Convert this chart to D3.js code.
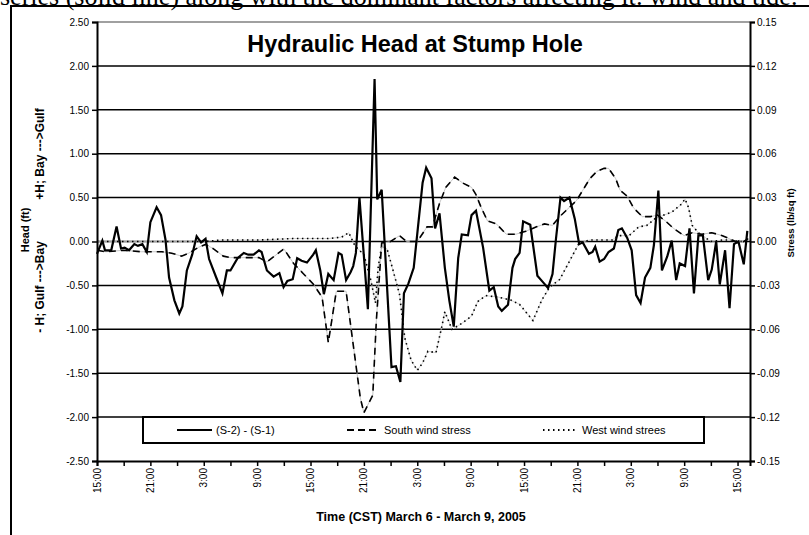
<!DOCTYPE html>
<html>
<head>
<meta charset="utf-8">
<script src="https://cdn.jsdelivr.net/npm/d3@7"></script>
<style>
  body { margin: 0; background: #fff; }
  svg { display: block; font-family: "Liberation Sans", Arial, sans-serif; }
</style>
</head>
<body>
<div id="chart"></div>
<script>
// hours after 15:00 March 6, head difference (ft)
var headHours = [0,0.6,0.9,1.6,2.2,2.7,3.1,3.6,4.2,4.6,5.1,5.6,6.0,6.7,7.2,7.7,8.1,8.7,9.25,9.6,10.1,10.7,11.2,11.7,12.2,12.6,13.4,14.1,14.6,15.0,15.8,16.5,17.0,17.6,18.2,18.5,18.9,19.1,19.85,20.5,20.97,21.4,22.0,22.5,23.0,23.6,24.3,24.6,25.1,25.5,26.0,26.6,27.15,27.5,28.0,28.5,28.8,29.1,29.5,30.45,31.2,31.5,32.0,33.1,33.6,34.1,34.5,35.0,35.6,36.6,37.0,37.6,38.0,38.5,39.1,39.6,40.1,40.6,41.0,41.7,42.1,42.6,43.4,44.1,44.6,45.1,45.5,46.2,46.7,47.0,47.5,47.9,48.7,49.5,50.1,50.7,51.2,51.6,52.1,52.5,53.1,53.7,54.2,54.6,55.3,55.7,56.0,56.5,57.0,57.5,58.1,58.6,59.0,59.6,60.1,60.6,61.1,61.6,62.2,62.6,63.1,63.5,64.1,64.6,65.1,65.5,66.1,66.6,67.1,67.6,68.1,68.7,69.1,69.6,70.0,70.6,71.1,71.6,72.1,72.7,73.1];
var headValues = [-0.14,0.01,-0.10,-0.10,0.17,-0.08,-0.07,-0.10,-0.03,-0.05,-0.03,-0.12,0.22,0.39,0.30,0.02,-0.41,-0.67,-0.82,-0.74,-0.33,-0.15,0.06,-0.01,0.03,-0.20,-0.41,-0.59,-0.33,-0.33,-0.19,-0.13,-0.15,-0.15,-0.10,-0.12,-0.26,-0.33,-0.40,-0.36,-0.52,-0.45,-0.43,-0.19,-0.22,-0.24,-0.15,-0.10,-0.33,-0.60,-0.37,-0.44,-0.13,-0.15,-0.44,-0.35,-0.28,-0.13,0.50,-0.77,1.85,0.48,0.59,-1.43,-1.42,-1.60,-0.59,-0.48,-0.30,0.67,0.84,0.72,0.15,0.32,-0.30,-0.67,-0.97,-0.19,0.08,0.07,0.30,0.35,-0.07,-0.56,-0.52,-0.74,-0.79,-0.72,-0.30,-0.20,-0.13,0.23,0.19,-0.39,-0.46,-0.53,-0.37,0.04,0.50,0.46,0.50,0.26,-0.03,-0.01,-0.14,-0.12,-0.06,-0.23,-0.20,-0.12,-0.08,0.13,0.15,0.04,-0.10,-0.61,-0.70,-0.41,-0.30,-0.04,0.58,-0.33,-0.17,0.01,-0.44,-0.25,-0.28,0.15,-0.59,0.07,0.07,-0.44,-0.32,0.00,-0.49,-0.10,-0.76,-0.03,0.00,-0.26,0.12];

// south wind stress (lb/sq ft)
var southHours = [0,1,3,5,7.3,8.4,9.5,10.3,11.4,12.2,13.1,14.2,15,18.2,19.1,21,22.1,23.2,24.3,25.3,26.0,26.9,28.0,29.6,30.0,31.0,31.4,32.0,33.0,34.0,34.8,36.0,37.1,37.7,38.5,39.2,40.2,41.1,42.1,42.6,43.2,43.9,44.9,46.0,47.1,48.2,49.4,50.3,51.2,52.0,52.7,53.9,54.6,55.4,56.2,57.0,57.5,58.3,58.8,59.6,60.3,61.3,62.2,63.0,63.9,64.8,66.0,66.9,68.0,69.1,70.3,71.4,72.1,72.7,73.2];
var southStress = [-0.006,-0.007,-0.006,-0.007,-0.007,-0.008,-0.010,-0.008,-0.004,-0.002,-0.005,-0.010,-0.011,-0.011,-0.014,-0.005,-0.015,-0.022,-0.029,-0.038,-0.069,-0.034,-0.034,-0.107,-0.117,-0.105,-0.054,-0.001,0.000,0.004,0.000,0.000,0.010,0.010,0.026,0.037,0.044,0.040,0.037,0.032,0.023,0.014,0.012,0.005,0.005,0.007,0.010,0.012,0.011,0.017,0.021,0.028,0.035,0.043,0.048,0.050,0.050,0.043,0.035,0.031,0.023,0.017,0.017,0.018,0.014,0.009,0.004,0.006,0.005,0.006,0.004,0.001,-0.001,0.000,0.002];

// west wind stress (lb/sq ft)
var westHours = [0,6,12,14,18,22,26,27.5,28.3,29.0,30.0,30.8,31.3,31.6,32.0,32.6,33.2,34.0,34.6,35.3,36.0,36.6,37.2,38.1,38.8,39.1,39.9,41.0,42.1,42.8,43.7,45.1,46.5,47.5,49.0,50.0,50.9,52.0,52.8,53.5,54.2,55.4,57.9,58.6,59.8,60.9,61.8,62.8,64.6,65.6,66.1,66.5,66.9,67.6,69.0,70.3,71.4,72.1,72.9];
var westStress = [0.000,0.000,0.000,0.001,0.001,0.002,0.002,0.003,0.006,-0.003,-0.009,-0.027,-0.042,-0.018,-0.003,-0.005,-0.018,-0.036,-0.066,-0.081,-0.088,-0.083,-0.075,-0.076,-0.057,-0.048,-0.060,-0.056,-0.051,-0.041,-0.037,-0.038,-0.040,-0.043,-0.054,-0.040,-0.031,-0.026,-0.017,-0.009,-0.001,0.001,0.001,0.004,0.004,0.010,0.011,0.016,0.020,0.025,0.029,0.023,0.011,0.006,0.000,0.001,0.001,0.000,0.000];

var timeTicks = [0,6,12,18,24,30,36,42,48,54,60,66,72];
var timeLabels = ["15:00","21:00","3:00","9:00","15:00","21:00","3:00","9:00","15:00","21:00","3:00","9:00","15:00"];
var minorTicks = [3,9,15,21,27,33,39,45,51,57,63,69];
var headTicks = [-2.5,-2,-1.5,-1,-0.5,0,0.5,1,1.5,2,2.5];
var stressTicks = [-0.15,-0.12,-0.09,-0.06,-0.03,0,0.03,0.06,0.09,0.12,0.15];
var seriesNames = ["(S-2) - (S-1)", "South wind stress", "West wind strees"];

var width = 809, height = 535;
var plot = { left: 97, right: 750, top: 22, bottom: 461 };

var svg = d3.select("#chart").append("svg")
    .attr("width", width)
    .attr("height", height);

// bit of the document text above the figure (cut by the page edge as in the scan)
svg.append("text")
    .attr("x", 0)
    .attr("y", 5)
    .attr("font-family", "'Liberation Serif', 'Times New Roman', serif")
    .attr("font-size", 26)
    .text("series (solid line) along with the dominant factors affecting it: wind and tide.");

// figure frame
svg.append("rect")
    .attr("x", 11).attr("y", 6)
    .attr("width", 820).attr("height", 560)
    .attr("fill", "none")
    .attr("stroke", "#000")
    .attr("stroke-width", 2);

var x = d3.scaleLinear().domain([0, 73.4]).range([plot.left, plot.right]);
var yHead = d3.scaleLinear().domain([-2.5, 2.5]).range([plot.bottom, plot.top]);
var yStress = d3.scaleLinear().domain([-0.15, 0.15]).range([plot.bottom, plot.top]);

// gridlines
svg.append("g")
    .selectAll("line")
    .data(headTicks.filter(d => d > -2.5 && d < 2.5))
    .enter().append("line")
    .attr("x1", plot.left).attr("x2", plot.right)
    .attr("y1", d => yHead(d)).attr("y2", d => yHead(d))
    .attr("stroke", "#000")
    .attr("stroke-width", 1.5);

// top border of plot area is grey
svg.append("line")
    .attr("x1", plot.left).attr("x2", plot.right)
    .attr("y1", yHead(2.5)).attr("y2", yHead(2.5))
    .attr("stroke", "#808080")
    .attr("stroke-width", 1.5);

var fmt = d => d.toFixed(2);

// left axis
var leftAxis = svg.append("g")
    .attr("transform", `translate(${plot.left},0)`)
    .call(d3.axisLeft(yHead).tickValues(headTicks).tickFormat(fmt).tickSizeOuter(0).tickSize(5).tickPadding(3));

// right axis
var rightAxis = svg.append("g")
    .attr("transform", `translate(${plot.right},0)`)
    .call(d3.axisRight(yStress).tickValues(stressTicks).tickFormat(fmt).tickSizeOuter(0).tickSize(5).tickPadding(2));

// bottom axis
var bottomAxis = svg.append("g")
    .attr("transform", `translate(0,${plot.bottom})`)
    .call(d3.axisBottom(x).tickValues(timeTicks.concat(minorTicks)).tickFormat("").tickSizeOuter(0).tickSize(5));

[leftAxis, rightAxis, bottomAxis].forEach(function(g) {
    g.select(".domain").attr("stroke", "#000").attr("stroke-width", 2);
    g.selectAll(".tick line").attr("stroke", "#000").attr("stroke-width", 1.5);
    g.selectAll("text").attr("font-size", 10).attr("fill", "#000")
        .attr("font-family", "'Liberation Sans', Arial, sans-serif");
});

// rotated time labels
svg.append("g")
    .selectAll("text")
    .data(timeTicks)
    .enter().append("text")
    .attr("transform", (d, i) => `translate(${x(d) + 3.5},468) rotate(-90)`)
    .attr("text-anchor", "end")
    .attr("font-size", 10)
    .text((d, i) => timeLabels[i]);

// series
var headLine = d3.line().x((d, i) => x(headHours[i])).y(d => yHead(d));
var southLine = d3.line().x((d, i) => x(southHours[i])).y(d => yStress(d));
var westLine = d3.line().x((d, i) => x(westHours[i])).y(d => yStress(d));

// faint underlay mimicking the scanned look of the broken lines
svg.append("path").datum(westStress).attr("d", westLine)
    .attr("fill", "none").attr("stroke", "#c8c8c8").attr("stroke-width", 0.8);
svg.append("path").datum(westStress).attr("d", westLine)
    .attr("fill", "none").attr("stroke", "#000").attr("stroke-width", 1.6)
    .attr("stroke-dasharray", "1.5,3.5");

svg.append("path").datum(southStress).attr("d", southLine)
    .attr("fill", "none").attr("stroke", "#b8b8b8").attr("stroke-width", 0.8);
svg.append("path").datum(southStress).attr("d", southLine)
    .attr("fill", "none").attr("stroke", "#000").attr("stroke-width", 1.6)
    .attr("stroke-dasharray", "7,5");

svg.append("path").datum(headValues).attr("d", headLine)
    .attr("fill", "none").attr("stroke", "#000").attr("stroke-width", 2.2)
    .attr("stroke-linejoin", "miter");

// legend
var legend = svg.append("g");
legend.append("rect")
    .attr("x", 143).attr("y", 417).attr("width", 561).attr("height", 26)
    .attr("fill", "#fff").attr("stroke", "#000").attr("stroke-width", 2);

var legendItems = [
    { x1: 177, x2: 212, tx: 216, dash: null, w: 2.2 },
    { x1: 347, x2: 378, tx: 384, dash: "7,4", w: 1.8 },
    { x1: 543, x2: 578, tx: 582, dash: "1.5,3.5", w: 1.8 }
];
legendItems.forEach(function(it, i) {
    legend.append("line")
        .attr("x1", it.x1).attr("x2", it.x2).attr("y1", 430).attr("y2", 430)
        .attr("stroke", "#000").attr("stroke-width", it.w)
        .attr("stroke-dasharray", it.dash);
    legend.append("text")
        .attr("x", it.tx).attr("y", 430).attr("dy", "0.35em")
        .attr("font-size", 11)
        .text(seriesNames[i]);
});

// titles
svg.append("text")
    .attr("x", 415).attr("y", 52)
    .attr("text-anchor", "middle")
    .attr("font-size", 23.5).attr("font-weight", "bold")
    .text("Hydraulic Head at Stump Hole");

svg.append("text")
    .attr("x", 421).attr("y", 521)
    .attr("text-anchor", "middle")
    .attr("font-size", 12.5).attr("font-weight", "bold")
    .text("Time (CST) March 6 - March 9, 2005");

svg.append("text")
    .attr("transform", "translate(29,230) rotate(-90)")
    .attr("text-anchor", "middle")
    .attr("font-size", 11).attr("font-weight", "bold")
    .text("Head (ft)");

// second line of the left axis title, two halves
svg.append("text")
    .attr("transform", "translate(44,287) rotate(-90)")
    .attr("text-anchor", "middle")
    .attr("font-size", 12).attr("font-weight", "bold")
    .text("- H; Gulf --->Bay");

svg.append("text")
    .attr("transform", "translate(44,154) rotate(-90)")
    .attr("text-anchor", "middle")
    .attr("font-size", 12).attr("font-weight", "bold")
    .text("+H; Bay --->Gulf");

svg.append("text")
    .attr("transform", "translate(794,223) rotate(-90)")
    .attr("text-anchor", "middle")
    .attr("font-size", 9.5).attr("font-weight", "bold")
    .text("Stress (lb/sq ft)");
</script>
</body>
</html>
